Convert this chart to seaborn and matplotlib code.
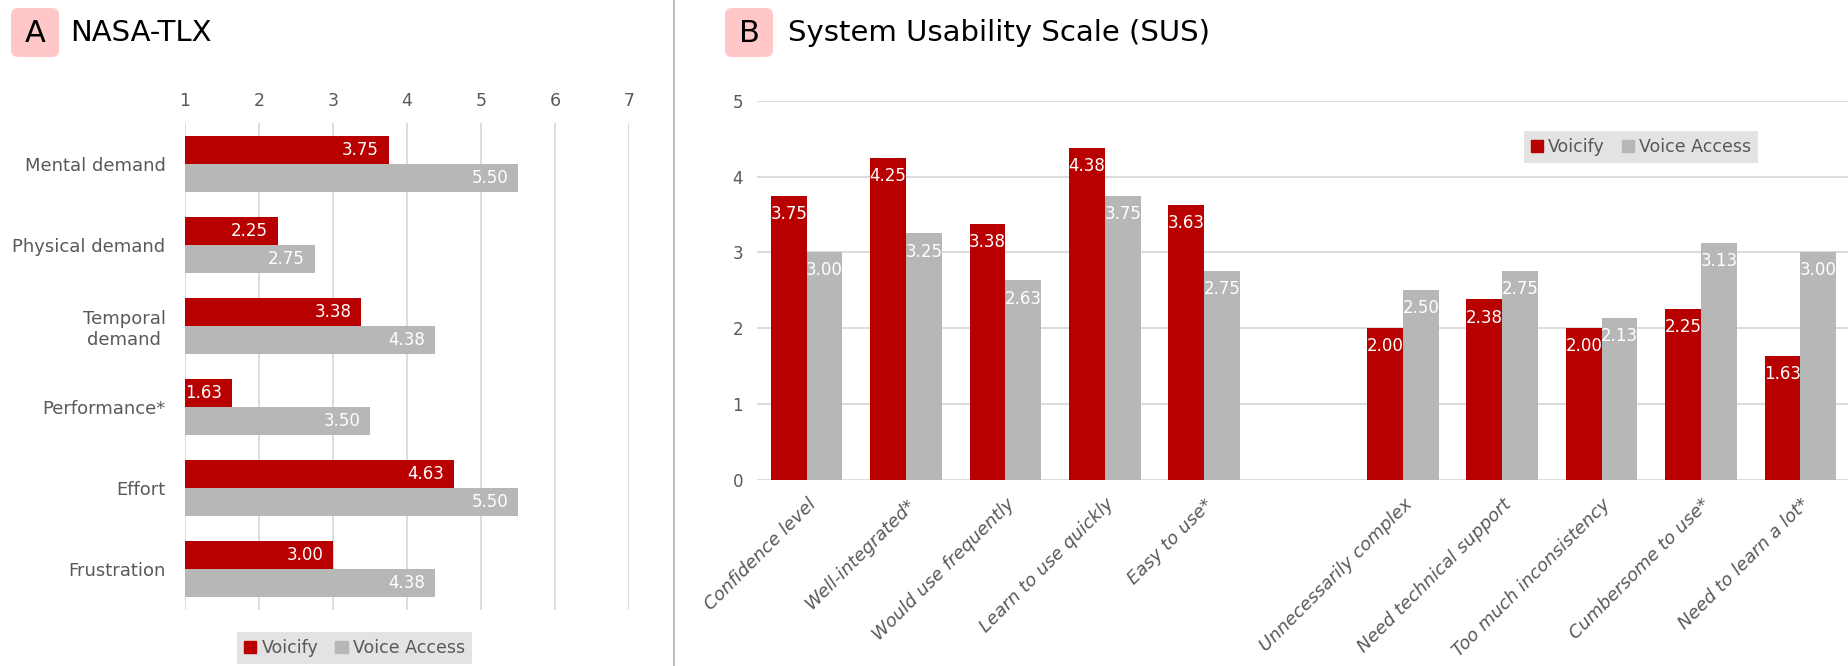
import numpy as np
import pandas as pd
import matplotlib.pyplot as plt
import seaborn as sns
from matplotlib.patches import FancyBboxPatch, Patch
from matplotlib.lines import Line2D

# NASA-TLX (panel A)
tlx_items = ["Mental demand", "Physical demand", "Temporal\ndemand",
             "Performance*", "Effort", "Frustration"]
tlx_voicify = [3.75, 2.25, 3.38, 1.63, 4.63, 3.00]
tlx_access = [5.50, 2.75, 4.38, 3.50, 5.50, 4.38]

# SUS (panel B), the empty item is the gap between the two groups
sus_items = ["Confidence level", "Well-integrated*", "Would use frequently",
             "Learn to use quickly", "Easy to use*", "",
             "Unnecessarily complex", "Need technical support",
             "Too much inconsistency", "Cumbersome to use*", "Need to learn a lot*"]
sus_voicify = [3.75, 4.25, 3.38, 4.38, 3.63, np.nan, 2.00, 2.38, 2.00, 2.25, 1.63]
sus_access = [3.00, 3.25, 2.63, 3.75, 2.75, np.nan, 2.50, 2.75, 2.13, 3.13, 3.00]

tools = ["Voicify", "Voice Access"]
colors = {"Voicify": "#B80000", "Voice Access": "#B7B7B7"}
txt_gray = "#595959"
grid_gray = "#D9D9D9"

W, H = 1848, 666


def long_form(items, a, b):
    df = pd.DataFrame({"item": items, tools[0]: a, tools[1]: b})
    df = df.melt(id_vars="item", var_name="tool", value_name="score")
    return df.dropna()


sns.set_style("white")
plt.rcParams["font.family"] = ["DejaVu Sans"]

fig = plt.figure(figsize=(W / 100, H / 100), dpi=100)

# ---------- panel A ----------
ax1 = fig.add_axes([185 / W, 1 - 610 / H, (629 - 185) / W, (610 - 123) / H])
tlx = long_form(tlx_items, tlx_voicify, tlx_access)
sns.barplot(data=tlx, y="item", x="score", hue="tool", order=tlx_items,
            hue_order=tools, palette=colors, saturation=1, orient="h", width=0.69,
            errorbar=None, linewidth=0, legend=False, ax=ax1)
ax1.set_xlim(1, 7)
ax1.set_xticks(range(1, 8))
ax1.xaxis.tick_top()
ax1.grid(axis="x", color=grid_gray, lw=1.3)
ax1.grid(axis="y", visible=False)
ax1.set_axisbelow(True)
for s in ax1.spines.values():
    s.set_visible(False)
ax1.set_xlabel("")
ax1.set_ylabel("")
ax1.tick_params(axis="x", length=0, pad=9, labelsize=12.5, labelcolor=txt_gray)
ax1.tick_params(axis="y", length=0, pad=14, labelsize=13, labelcolor=txt_gray)
for lab in ax1.get_yticklabels():
    lab.set_multialignment("center")
for cont in ax1.containers:
    for t in ax1.bar_label(cont, fmt="%.2f", padding=-7, color="white", fontsize=12):
        t.set_ha("right")

ax1.legend([Patch(color=colors[t]) for t in tools], tools, loc="center",
           bbox_to_anchor=(354.5 / W, 1 - 648 / H), bbox_transform=fig.transFigure,
           ncol=2, frameon=True, facecolor="#E3E3E3", edgecolor="none", framealpha=1,
           fancybox=False, handlelength=0.7, handleheight=0.7, handletextpad=0.3,
           columnspacing=1.0, borderpad=0.4, fontsize=12.5, labelcolor=txt_gray)

# ---------- panel B ----------
ax2 = fig.add_axes([757 / W, 1 - 480 / H, (1850 - 757) / W, (480 - 100.7) / H])
sus = long_form(sus_items, sus_voicify, sus_access)
sns.barplot(data=sus, x="item", y="score", hue="tool", order=sus_items,
            hue_order=tools, palette=colors, saturation=1, width=0.72,
            errorbar=None, linewidth=0, legend=False, ax=ax2)
ax2.set_xlim(-0.5, len(sus_items) - 0.5)
ax2.set_ylim(0, 5)
ax2.set_yticks(range(0, 6))
ax2.grid(axis="y", color=grid_gray, lw=1.3)
ax2.grid(axis="x", visible=False)
ax2.set_axisbelow(True)
for s in ax2.spines.values():
    s.set_visible(False)
ax2.set_xlabel("")
ax2.set_ylabel("")
ax2.tick_params(axis="y", length=0, pad=10, labelsize=12, labelcolor=txt_gray)
ax2.tick_params(axis="x", length=0, pad=11)
# no tick label at the gap slot
shown = [i for i, name in enumerate(sus_items) if name]
ax2.set_xticks(shown)
ax2.set_xticklabels([sus_items[i] for i in shown], rotation=45, ha="right",
                    rotation_mode="anchor", fontstyle="italic", fontsize=13,
                    color=txt_gray)
for cont in ax2.containers:
    for t in ax2.bar_label(cont, fmt="%.2f", padding=-13, color="white", fontsize=12):
        t.set_va("center")

ax2.legend([Patch(color=colors[t]) for t in tools], tools, loc="center",
           bbox_to_anchor=(1641 / W, 1 - 147 / H), bbox_transform=fig.transFigure,
           ncol=2, frameon=True, facecolor="#E3E3E3", edgecolor="none", framealpha=1,
           fancybox=False, handlelength=0.7, handleheight=0.7, handletextpad=0.3,
           columnspacing=1.0, borderpad=0.4, fontsize=12.5, labelcolor=txt_gray)

# ---------- titles, badges, separator ----------
for x0, letter, title, tx in [(0.11, "A", "NASA-TLX", 70), (7.25, "B", "System Usability Scale (SUS)", 788)]:
    fig.add_artist(FancyBboxPatch((x0, 6.09), 0.48, 0.49,
                                  boxstyle="round,pad=0,rounding_size=0.07",
                                  transform=fig.dpi_scale_trans,
                                  fc="#FFC7C7", ec="none"))
    fig.text((x0 + 0.24) * 100 / W, 1 - 33 / H, letter, fontsize=22,
             ha="center", va="center", color="black")
    fig.text(tx / W, 1 - 33 / H, title, fontsize=21, ha="left", va="center",
             color="black")

fig.add_artist(Line2D([674 / W, 674 / W], [0, 1], color="#BFBFBF", lw=1.5,
                      transform=fig.transFigure))

fig.savefig("out.png", dpi=100)
